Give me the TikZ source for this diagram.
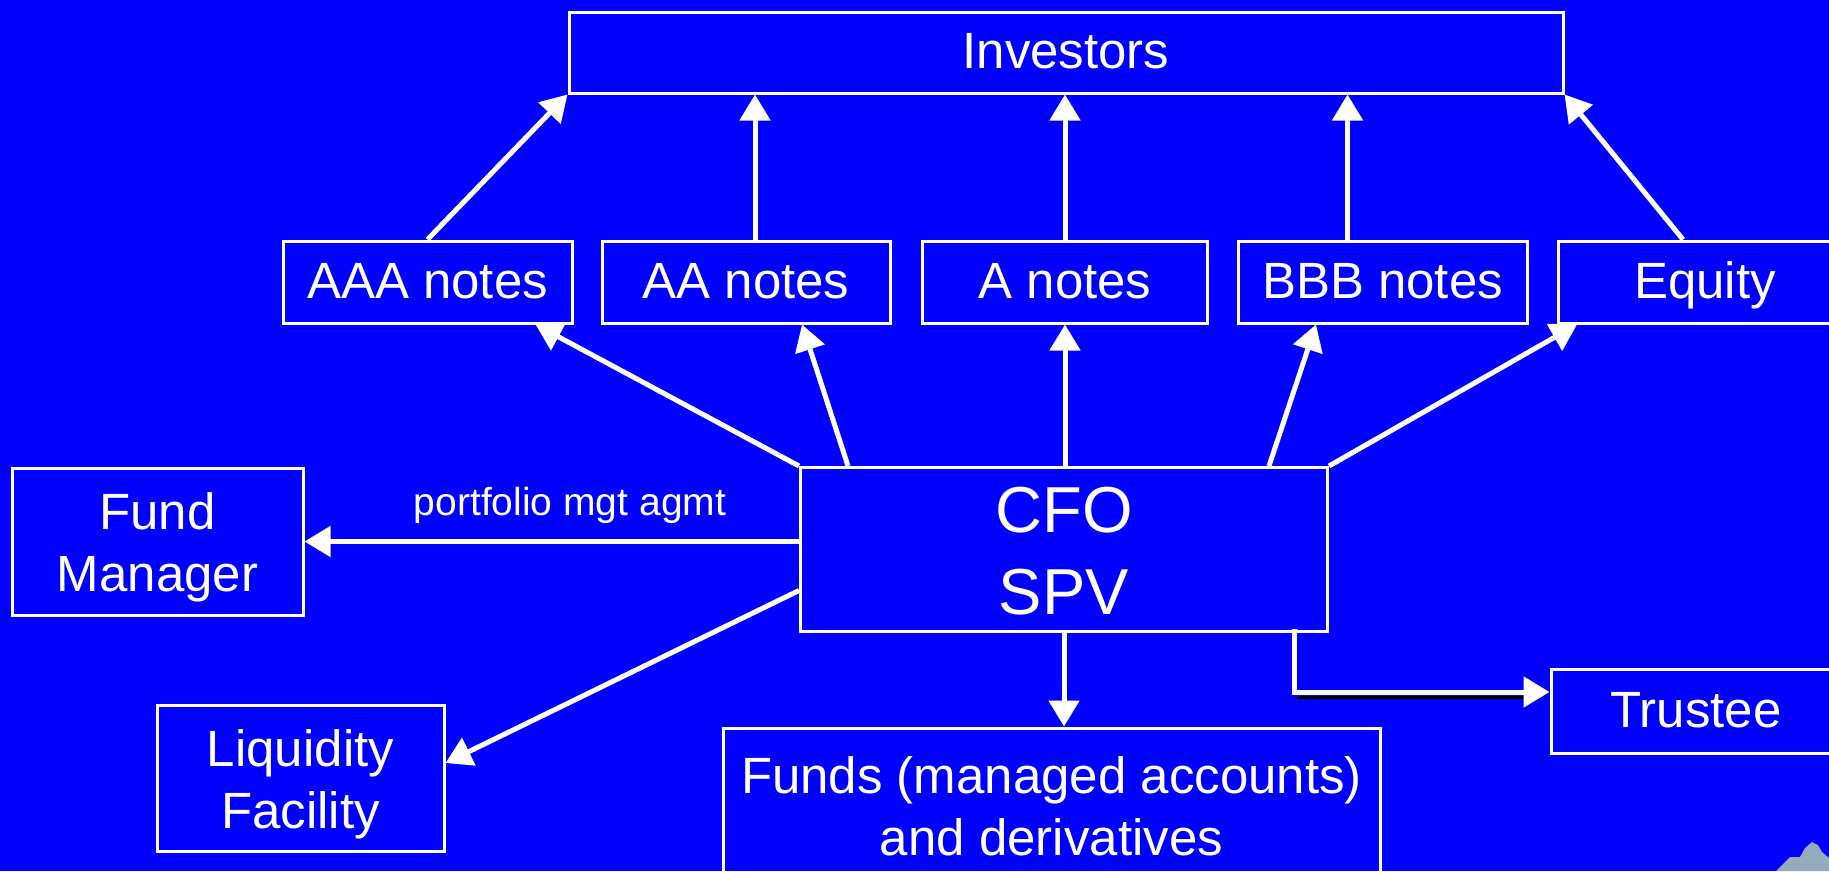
\documentclass[tikz,border=0pt]{standalone}
\usepackage{fontspec}
\setmainfont{Liberation Sans}
\usetikzlibrary{arrows.meta}
\definecolor{bg}{RGB}{0,0,255}
\definecolor{shade}{RGB}{175,175,255}
\definecolor{wmark}{RGB}{150,170,190}
\newcommand\twoline[2][-7pt]{\raisebox{#1}[\height][\depth]{\begin{tabular}{@{}c@{}}#2\end{tabular}}}
\begin{document}
\begin{tikzpicture}[x=1pt,y=-1pt,
  box/.style={draw=white,line width=3pt,inner sep=0pt,text=white,
    font=\fontsize{51}{62}\selectfont,align=center},
  onebox/.style={box,text height=37pt,text depth=5pt},
  conn/.style={draw=white,line width=5pt,-{Triangle[length=26pt,width=30pt]}},
]
\clip (0,0) rectangle (1829,871);
\fill[bg] (0,0) rectangle (1829,871);

\node[onebox,minimum width=994pt,minimum height=81pt] (inv) at (1066,52.5) {Investors};

\node[onebox,minimum width=289pt,minimum height=82pt] (aaa) at (427.5,282) {AAA notes};
\node[onebox,minimum width=288pt,minimum height=82pt] (aa) at (746,282) {AA notes};
\node[onebox,minimum width=285pt,minimum height=82pt] (an) at (1065,282) {A notes};
\node[onebox,minimum width=289pt,minimum height=82pt] (bbb) at (1382.5,282) {BBB notes};
\node[onebox,minimum width=294pt,minimum height=82pt] (eq) at (1705,282) {Equity};

\node[box,font=\fontsize{65}{82}\selectfont,minimum width=527pt,minimum height=161pt] (cfo) at (1064,549.5) {\twoline[-8pt]{CFO\\SPV}};
\node[box,minimum width=291pt,minimum height=147pt] (fm) at (157.5,541.5) {\twoline{Fund\\Manager}};
\node[box,minimum width=287pt,minimum height=146pt] (liq) at (300.5,778) {\twoline{Liquidity\\Facility}};
\node[box,minimum width=657pt,minimum height=154pt] (funds) at (1051.5,805) {\twoline{Funds (managed accounts)\\and derivatives}};
\node[onebox,minimum width=290pt,minimum height=84pt] (trustee) at (1696,711) {Trustee};

\node[text=white,font=\fontsize{39}{47}\selectfont,anchor=base,inner sep=0pt] (pma) at (570,515) {portfolio mgt agmt};

% SPV to notes
\draw[conn] (cfo.north west) -- ([xshift=108pt]aaa.south);
\draw[conn] ([xshift=-216pt]cfo.north) -- ([xshift=56pt]aa.south);
\draw[conn] (cfo.north -| an.south) -- (an.south);
\draw[conn] ([xshift=205pt]cfo.north) -- ([xshift=-66.5pt]bbb.south);
\draw[conn] (cfo.north east) -- ([xshift=-128pt]eq.south);

% notes to investors
\draw[conn] (aaa.north) -- (inv.south west);
\draw[conn] ([xshift=9pt]aa.north) -- ([xshift=9pt]aa.north |- inv.south);
\draw[conn] (an.north) -- (an.north |- inv.south);
\draw[conn] ([xshift=-35pt]bbb.north) -- ([xshift=-35pt]bbb.north |- inv.south);
\draw[conn] ([xshift=-22pt]eq.north) -- (inv.south east);

% other links
\draw[conn] (cfo.west |- fm.east) -- (fm.east);
\draw[conn] ([yshift=-41pt]cfo.west) -- ([yshift=15pt]liq.east);
\draw[conn] (cfo.south) -- (cfo.south |- funds.north);
\draw[shade,line width=3pt] (1297,697) -- (1540,697);
\draw[conn] ([xshift=230pt,yshift=4pt]cfo.south) |- ([yshift=19pt]trustee.west);

% corner mark
\fill[wmark] (1776,871) -- (1790,857) -- (1800,857) -- (1805,848) -- (1812,842) -- (1818,845) -- (1822,852) -- (1829,858) -- (1829,871) -- cycle;
\end{tikzpicture}
\end{document}
